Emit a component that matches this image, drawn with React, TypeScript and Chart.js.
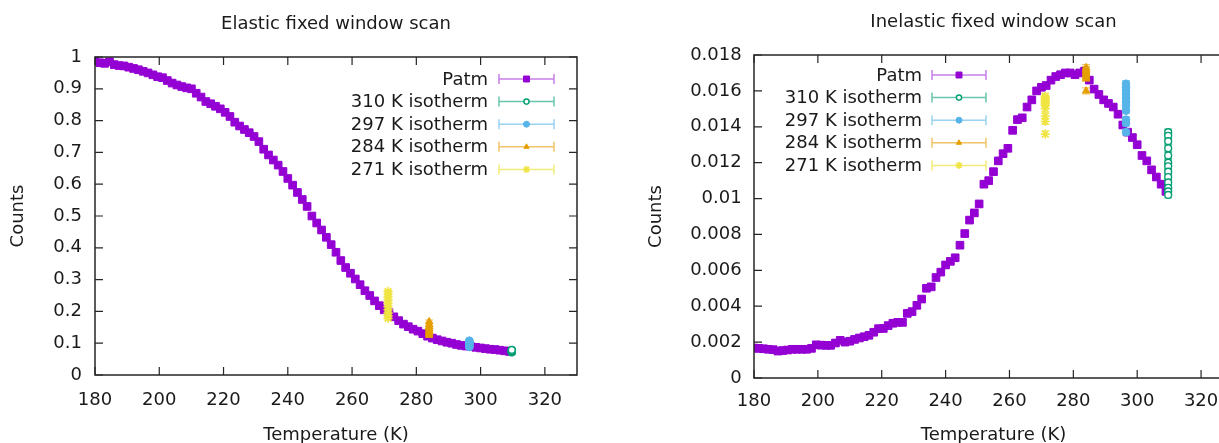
import React, { useEffect, useRef } from 'react';
import { Chart, registerables } from 'chart.js';
import { drawPoint } from 'chart.js/helpers';

Chart.register(...registerables);

const FONT = '"DejaVu Sans", Verdana, sans-serif';
const TEXT = '#1a1a1a';

// ---------------- data ----------------
const temps = [
  180, 181.5, 183, 184.5, 186, 187.5, 189, 190.5, 192, 193.5, 195, 196.5, 198, 199.5, 201, 202.5,
  204, 205.5, 207, 208.5, 210, 211.5, 213, 214.5, 216, 217.5, 219, 220.5, 222, 223.5, 225, 226.5,
  228, 229.5, 231, 232.5, 234, 235.5, 237, 238.5, 240, 241.5, 243, 244.5, 246, 247.5, 249, 250.5,
  252, 253.5, 255, 256.5, 258, 259.5, 261, 262.5, 264, 265.5, 267, 268.5, 270, 271.5, 273, 274.5,
  276, 277.5, 279, 280.5, 282, 283.5, 285, 286.5, 288, 289.5, 291, 292.5, 294, 295.5, 297, 298.5,
  300, 301.5, 303, 304.5, 306, 307.5, 309,
];

const elasticPatm = [
  0.99, 0.982, 0.98, 0.985, 0.976, 0.973, 0.972, 0.968, 0.964, 0.96, 0.955, 0.95, 0.944, 0.938, 0.935, 0.926,
  0.918, 0.912, 0.907, 0.903, 0.9, 0.886, 0.874, 0.86, 0.853, 0.845, 0.837, 0.826, 0.813, 0.795, 0.783, 0.772,
  0.762, 0.75, 0.734, 0.71, 0.692, 0.676, 0.66, 0.64, 0.618, 0.597, 0.574, 0.552, 0.53, 0.5, 0.478, 0.456,
  0.433, 0.41, 0.386, 0.36, 0.338, 0.32, 0.302, 0.284, 0.265, 0.25, 0.233, 0.218, 0.205, 0.196, 0.183, 0.171,
  0.16, 0.152, 0.144, 0.138, 0.13, 0.122, 0.116, 0.111, 0.107, 0.103, 0.1, 0.096, 0.093, 0.091, 0.089, 0.087,
  0.085, 0.083, 0.081, 0.08, 0.078, 0.076, 0.074,
];

const inelasticPatm = [
  0.00167, 0.00165, 0.00163, 0.0016, 0.00158, 0.0015, 0.00153, 0.00156, 0.0016, 0.0016, 0.0016, 0.0016, 0.00165, 0.00185, 0.00183, 0.00182,
  0.00182, 0.00195, 0.0021, 0.002, 0.00205, 0.00215, 0.00223, 0.0023, 0.00238, 0.00255, 0.00275, 0.00276, 0.00292, 0.00305, 0.0031, 0.0031,
  0.0036, 0.0037, 0.00405, 0.0044, 0.005, 0.00508, 0.0056, 0.0059, 0.0063, 0.0065, 0.0067, 0.0074, 0.00805, 0.0088, 0.0092, 0.0097,
  0.0108, 0.011, 0.0115, 0.0121, 0.0125, 0.0128, 0.0138, 0.0144, 0.0145, 0.0151, 0.0155, 0.016, 0.0162, 0.0163, 0.0166, 0.0168,
  0.0169, 0.017, 0.017, 0.0169, 0.017, 0.0171, 0.0166, 0.0161, 0.0158, 0.0155, 0.0153, 0.0151, 0.0147, 0.0141, 0.0137, 0.0134,
  0.013, 0.0124, 0.0121, 0.0116, 0.0112, 0.0108, 0.0104,
];

// isotherm temperatures (K)
const isoT310 = 309.7;
const isoT297 = 296.5;
const isoT284 = 284.0;
const isoT271 = 271.2;

// elastic isotherms
const elastic310 = [0.071, 0.072, 0.073, 0.074, 0.075, 0.076, 0.077, 0.078, 0.079];
const elastic297 = [0.088, 0.091, 0.094, 0.097, 0.1, 0.102, 0.105, 0.108];
const elastic284 = [0.125, 0.13, 0.135, 0.14, 0.146, 0.152, 0.158, 0.168];
const elastic271 = [0.178, 0.186, 0.195, 0.205, 0.215, 0.225, 0.235, 0.245, 0.255, 0.263];

// inelastic isotherms
const inelastic310 = [0.0137, 0.0135, 0.0132, 0.0128, 0.0124, 0.012, 0.0118, 0.0115, 0.0112, 0.0109, 0.0106, 0.0104, 0.0102];
const inelastic297 = [0.0164, 0.0162, 0.016, 0.0158, 0.0156, 0.0154, 0.0152, 0.0149, 0.0144, 0.0142, 0.0137];
const inelastic284 = [0.0173, 0.0172, 0.0171, 0.017, 0.0169, 0.0168, 0.0167, 0.016];
const inelastic271 = [0.0157, 0.0156, 0.0155, 0.0154, 0.0153, 0.0152, 0.015, 0.0146, 0.0143, 0.0136];

// error bar half-heights
const elasticErr = 0.005;
const inelasticErr = 0.00017;

// ticks
const xTicks = [180, 200, 220, 240, 260, 280, 300, 320];
const xTickLabels = ['180', '200', '220', '240', '260', '280', '300', '320'];
const yTicksElastic = [0, 0.1, 0.2, 0.3, 0.4, 0.5, 0.6, 0.7, 0.8, 0.9, 1];
const yTickLabelsElastic = ['0', '0.1', '0.2', '0.3', '0.4', '0.5', '0.6', '0.7', '0.8', '0.9', '1'];
const yTicksInelastic = [0, 0.002, 0.004, 0.006, 0.008, 0.01, 0.012, 0.014, 0.016, 0.018];
const yTickLabelsInelastic = ['0', '0.002', '0.004', '0.006', '0.008', '0.01', '0.012', '0.014', '0.016', '0.018'];

const seriesLabels = ['Patm', '310 K isotherm', '297 K isotherm', '284 K isotherm', '271 K isotherm'];

// ---------------- styles ----------------
const styles = [
  { color: '#9400d3', line: 'rgba(148,0,211,0.5)', pointStyle: 'rect', radius: 5.4, legendRadius: 4.2, fill: '#9400d3', bw: 1 },
  { color: '#009e73', line: 'rgba(0,158,115,0.6)', pointStyle: 'circle', radius: 3.4, legendRadius: 2.6, fill: '#ffffff', bw: 1.4 },
  { color: '#56b4e9', line: 'rgba(86,180,233,0.6)', pointStyle: 'circle', radius: 3.8, legendRadius: 3, fill: '#56b4e9', bw: 1 },
  { color: '#e69f00', line: 'rgba(230,159,0,0.6)', pointStyle: 'triangle', radius: 4.2, legendRadius: 3, fill: '#e69f00', bw: 1 },
  { color: '#f0e442', line: 'rgba(240,228,66,0.7)', pointStyle: 'star', radius: 4.6, legendRadius: 3.6, fill: '#f0e442', bw: 1.5 },
];

// ---------------- plugins ----------------
const errorBarPlugin = {
  id: 'errorBars',
  beforeDatasetDraw(chart: any, args: any) {
    const ds = chart.data.datasets[args.index];
    const err = ds.yErr;
    if (!err) return;
    const yScale = chart.scales.y;
    const ctx = chart.ctx;
    const area = chart.chartArea;
    ctx.save();
    ctx.beginPath();
    ctx.rect(area.left, area.top, area.right - area.left, area.bottom - area.top);
    ctx.clip();
    ctx.strokeStyle = ds.errColor;
    ctx.lineWidth = 1.2;
    ctx.beginPath();
    const cap = 4;
    args.meta.data.forEach((el: any, i: number) => {
      const v = ds.data[i].y;
      const x = el.x;
      const y1 = yScale.getPixelForValue(v + err);
      const y2 = yScale.getPixelForValue(v - err);
      ctx.moveTo(x, y1);
      ctx.lineTo(x, y2);
      ctx.moveTo(x - cap, y1);
      ctx.lineTo(x + cap, y1);
      ctx.moveTo(x - cap, y2);
      ctx.lineTo(x + cap, y2);
    });
    ctx.stroke();
    ctx.restore();
  },
};

const framePlugin = {
  id: 'frame',
  afterDraw(chart: any, _args: any, opts: any) {
    const ctx = chart.ctx;
    const { left, right, top, bottom } = chart.chartArea;
    const xs = chart.scales.x;
    const ys = chart.scales.y;
    const tl = 8;
    ctx.save();
    ctx.strokeStyle = '#262626';
    ctx.lineWidth = 1.5;
    ctx.beginPath();
    ctx.rect(left, top, right - left, bottom - top);
    ctx.stroke();
    ctx.lineWidth = 1.2;
    ctx.beginPath();
    (opts.xTicks as number[]).forEach((v) => {
      const x = xs.getPixelForValue(v);
      ctx.moveTo(x, bottom);
      ctx.lineTo(x, bottom - tl);
      ctx.moveTo(x, top);
      ctx.lineTo(x, top + tl);
    });
    (opts.yTicks as number[]).forEach((v) => {
      const y = ys.getPixelForValue(v);
      ctx.moveTo(left, y);
      ctx.lineTo(left + tl, y);
      ctx.moveTo(right, y);
      ctx.lineTo(right - tl, y);
    });
    ctx.stroke();
    ctx.restore();
  },
};

const legendPlugin = {
  id: 'sideLegend',
  afterDraw(chart: any, _args: any, opts: any) {
    const ctx = chart.ctx;
    ctx.save();
    ctx.font = `18px ${FONT}`;
    ctx.textAlign = 'right';
    ctx.textBaseline = 'middle';
    chart.data.datasets.forEach((ds: any, i: number) => {
      const y = opts.y0 + i * opts.dy;
      ctx.fillStyle = TEXT;
      ctx.fillText(ds.label, opts.textX, y + 1);
      ctx.strokeStyle = ds.lineColor;
      ctx.lineWidth = 1.5;
      ctx.beginPath();
      ctx.moveTo(opts.x0, y);
      ctx.lineTo(opts.x1, y);
      ctx.moveTo(opts.x0, y - 5);
      ctx.lineTo(opts.x0, y + 5);
      ctx.moveTo(opts.x1, y - 5);
      ctx.lineTo(opts.x1, y + 5);
      ctx.stroke();
      ctx.fillStyle = ds.backgroundColor;
      ctx.strokeStyle = ds.borderColor;
      ctx.lineWidth = ds.borderWidth;
      drawPoint(ctx, { pointStyle: ds.pointStyle, radius: ds.legendRadius, borderWidth: ds.borderWidth, rotation: 0 } as any, (opts.x0 + opts.x1) / 2, y);
    });
    ctx.restore();
  },
};

// ---------------- config ----------------
function buildDatasets(patm: number[], isoSets: number[][], isoTs: number[], err: number) {
  const all = [
    temps.map((t, i) => ({ x: t, y: patm[i] })),
    ...isoSets.map((vals, k) => vals.map((v) => ({ x: isoTs[k], y: v }))),
  ];
  return all.map((data, i) => {
    const s = styles[i];
    return {
      label: seriesLabels[i],
      data,
      order: 5 - i,
      pointStyle: s.pointStyle,
      pointRadius: s.radius,
      pointHoverRadius: s.radius,
      legendRadius: s.legendRadius,
      backgroundColor: s.fill,
      borderColor: s.color,
      borderWidth: s.bw,
      showLine: false,
      yErr: err,
      errColor: s.line,
      lineColor: s.line,
    } as any;
  });
}

interface Geo {
  title: string;
  yAxisWidth: number;
  xAxisHeight: number;
  padRight: number;
  titlePadTop: number;
  titlePadBottom: number;
  yTitlePad: number;
  yTickPad: number;
  xTickPad: number;
  yMax: number;
  yTicks: number[];
  yLabels: string[];
  legend: { textX: number; x0: number; x1: number; y0: number; dy: number };
}

function makeConfig(geo: Geo, datasets: any[]): any {
  const font = { family: FONT, size: 18, weight: 'normal' as const };
  return {
    type: 'scatter',
    data: { datasets },
    plugins: [errorBarPlugin, framePlugin, legendPlugin],
    options: {
      animation: false,
      responsive: false,
      devicePixelRatio: 1,
      events: [],
      layout: { padding: { left: 0, right: geo.padRight, top: 0, bottom: 0 } },
      plugins: {
        legend: { display: false },
        tooltip: { enabled: false },
        title: {
          display: true,
          text: geo.title,
          fullSize: false,
          color: TEXT,
          font,
          padding: { top: geo.titlePadTop, bottom: geo.titlePadBottom },
        },
        frame: { xTicks, yTicks: geo.yTicks },
        sideLegend: geo.legend,
      },
      scales: {
        x: {
          type: 'linear',
          min: 180,
          max: 330,
          grid: { display: false, drawTicks: false },
          border: { display: false },
          afterBuildTicks: (scale: any) => {
            scale.ticks = xTicks.map((v) => ({ value: v }));
          },
          afterFit: (scale: any) => {
            scale.height = geo.xAxisHeight;
          },
          ticks: {
            autoSkip: false,
            maxRotation: 0,
            padding: geo.xTickPad,
            color: TEXT,
            font,
            callback: (_v: any, i: number) => xTickLabels[i],
          },
          title: {
            display: true,
            text: 'Temperature (K)',
            color: TEXT,
            font,
            padding: { top: 0, bottom: -3 },
          },
        },
        y: {
          type: 'linear',
          min: 0,
          max: geo.yMax,
          grid: { display: false, drawTicks: false },
          border: { display: false },
          afterBuildTicks: (scale: any) => {
            scale.ticks = geo.yTicks.map((v) => ({ value: v }));
          },
          afterFit: (scale: any) => {
            scale.width = geo.yAxisWidth;
          },
          ticks: {
            autoSkip: false,
            padding: geo.yTickPad,
            color: TEXT,
            font,
            callback: (_v: any, i: number) => geo.yLabels[i],
          },
          title: {
            display: true,
            text: 'Counts',
            color: TEXT,
            font,
            padding: { top: geo.yTitlePad, bottom: 0 },
          },
        },
      },
    },
  };
}

const leftGeo: Geo = {
  title: 'Elastic fixed window scan',
  yAxisWidth: 95,
  xAxisHeight: 68,
  padRight: 33,
  titlePadTop: 13.2,
  titlePadBottom: 22.2,
  yTitlePad: 7.2,
  yTickPad: 13,
  xTickPad: 14.2,
  yMax: 1,
  yTicks: yTicksElastic,
  yLabels: yTickLabelsElastic,
  legend: { textX: 488, x0: 499, x1: 554, y0: 79, dy: 22.6 },
};

const rightGeo: Geo = {
  title: 'Inelastic fixed window scan',
  yAxisWidth: 144,
  xAxisHeight: 65,
  padRight: 17,
  titlePadTop: 11.7,
  titlePadBottom: 21.7,
  yTitlePad: 35.2,
  yTickPad: 12.3,
  xTickPad: 12.2,
  yMax: 0.018,
  yTicks: yTicksInelastic,
  yLabels: yTickLabelsInelastic,
  legend: { textX: 312, x0: 322, x1: 376, y0: 75, dy: 22.6 },
};

export default function App() {
  const leftRef = useRef<HTMLCanvasElement | null>(null);
  const rightRef = useRef<HTMLCanvasElement | null>(null);

  useEffect(() => {
    const left = new Chart(
      leftRef.current as HTMLCanvasElement,
      makeConfig(
        leftGeo,
        buildDatasets(elasticPatm, [elastic310, elastic297, elastic284, elastic271], [isoT310, isoT297, isoT284, isoT271], elasticErr)
      )
    );
    const right = new Chart(
      rightRef.current as HTMLCanvasElement,
      makeConfig(
        rightGeo,
        buildDatasets(inelasticPatm, [inelastic310, inelastic297, inelastic284, inelastic271], [isoT310, isoT297, isoT284, isoT271], inelasticErr)
      )
    );
    return () => {
      left.destroy();
      right.destroy();
    };
  }, []);

  return (
    <div style={{ position: 'absolute', left: 0, top: 0, width: 1219, height: 443, overflow: 'hidden', background: '#ffffff' }}>
      <div style={{ position: 'absolute', left: 0, top: 0, width: 610, height: 443 }}>
        <canvas ref={leftRef} width={610} height={443} style={{ width: 610, height: 443, display: 'block' }} />
      </div>
      <div style={{ position: 'absolute', left: 610, top: 0, width: 640, height: 443 }}>
        <canvas ref={rightRef} width={640} height={443} style={{ width: 640, height: 443, display: 'block' }} />
      </div>
    </div>
  );
}
